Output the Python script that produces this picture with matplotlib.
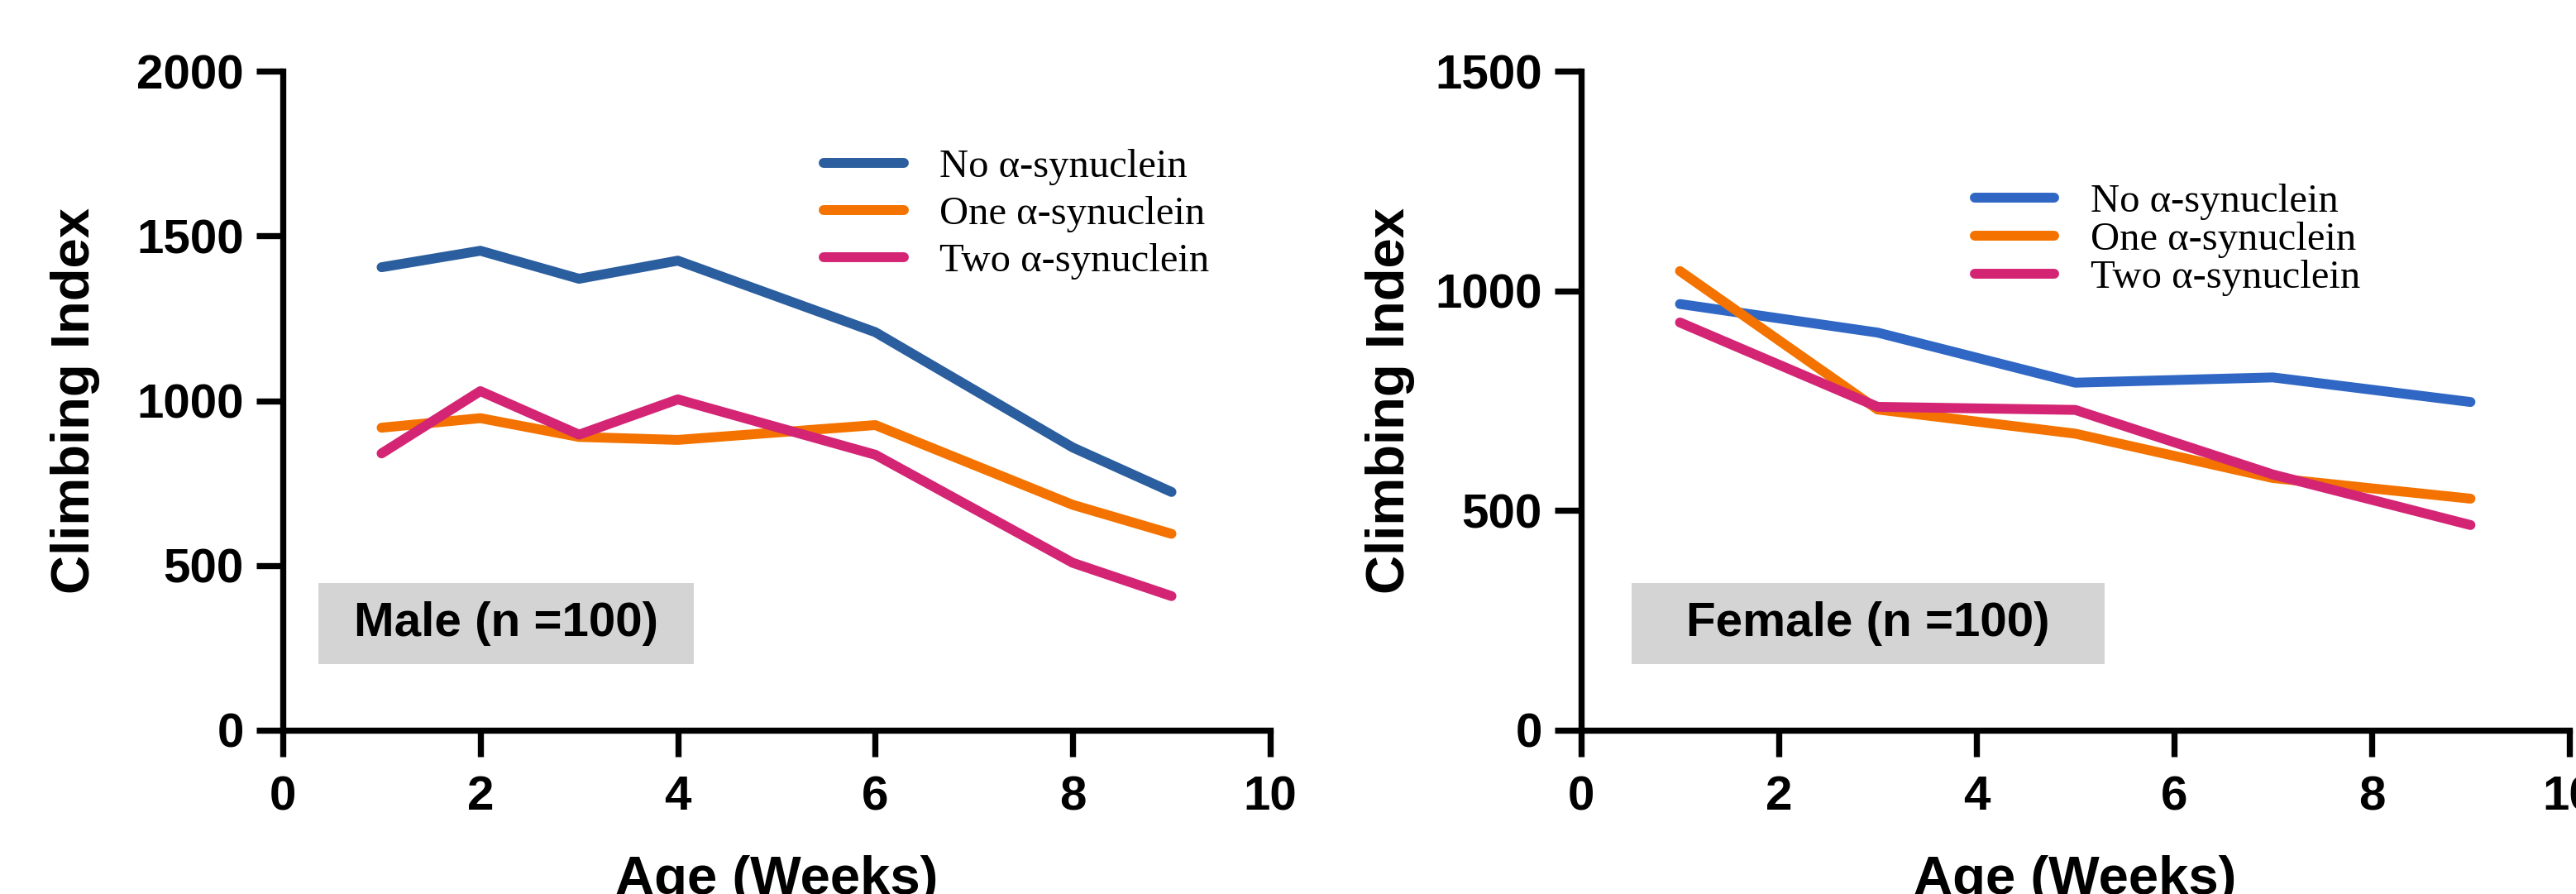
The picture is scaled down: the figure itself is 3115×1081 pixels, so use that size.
import numpy as np
import matplotlib as mpl
mpl.use('Agg')
import matplotlib.pyplot as plt
from matplotlib.patches import Rectangle


# male panel data (weeks, climbing index)
male_weeks = [1, 2, 3, 4, 6, 8, 9]
male_no = [1405, 1455, 1370, 1425, 1208, 858, 723]
male_one = [918, 947, 890, 881, 926, 684, 596]
male_two = [840, 1029, 897, 1004, 836, 508, 407]

# female panel data
female_weeks = [1, 3, 5, 7, 9]
female_no = [970, 905, 791, 803, 747]
female_one = [1045, 730, 675, 574, 527]
female_two = [928, 736, 729, 582, 467]

series_labels = ['No \u03b1-synuclein', 'One \u03b1-synuclein', 'Two \u03b1-synuclein']
panel_titles = ['Male (n =100)', 'Female (n =100)']
x_ticks = [0, 2, 4, 6, 8, 10]
male_yticks = [0, 500, 1000, 1500, 2000]
female_yticks = [0, 500, 1000, 1500]

blue_m = '#2B5E9E'
blue_f = '#3067C4'
orange = '#F47300'
pink = '#D42575'
box_grey = '#D4D4D4'

sans = 'Liberation Sans'
serif = 'Liberation Serif'

plt.rcParams['font.family'] = sans
plt.rcParams['font.weight'] = 'bold'

fig = plt.figure(figsize=(31.15, 10.81), dpi=100)
ax1 = fig.add_axes([0.1098, 0.1832, 0.3833, 0.7372])
ax2 = fig.add_axes([0.6138, 0.1832, 0.3836, 0.7372])


def style_axis(ax, yticks, ylab_x):
	ax.spines['right'].set_visible(False)
	ax.spines['top'].set_visible(False)
	ax.spines['left'].set_linewidth(5.3)
	ax.spines['bottom'].set_linewidth(5.3)
	ax.set_xlim(0, 10)
	ax.set_ylim(yticks[0], yticks[-1])
	ax.set_xticks(x_ticks)
	ax.set_yticks(yticks)
	ax.tick_params(axis='both', length=23, width=5.3, labelsize=42)
	ax.tick_params(axis='x', pad=16)
	ax.tick_params(axis='y', pad=11)
	for lab in ax.get_xticklabels() + ax.get_yticklabels():
		lab.set_fontweight('bold')
	ax.set_xlabel('Age (Weeks)', fontsize=47, fontweight='bold')
	ax.set_ylabel('Climbing Index', fontsize=47, fontweight='bold')
	ax.xaxis.set_label_coords(0.5, -0.19)
	ax.yaxis.set_label_coords(ylab_x, 0.5)


lw = 8.6

ax1.plot(male_weeks, male_no, color=blue_m, lw=lw, solid_capstyle='round', label=series_labels[0])
ax1.plot(male_weeks, male_one, color=orange, lw=lw, solid_capstyle='round', label=series_labels[1])
ax1.plot(male_weeks, male_two, color=pink, lw=lw, solid_capstyle='round', label=series_labels[2])
style_axis(ax1, male_yticks, -0.185)

ax2.plot(female_weeks, female_no, color=blue_f, lw=lw, solid_capstyle='round', label=series_labels[0])
ax2.plot(female_weeks, female_one, color=orange, lw=lw, solid_capstyle='round', label=series_labels[1])
ax2.plot(female_weeks, female_two, color=pink, lw=lw, solid_capstyle='round', label=series_labels[2])
style_axis(ax2, female_yticks, -0.168)

# legends
leg1 = ax1.legend(loc='upper left', bbox_to_anchor=(0.548, 0.882), frameon=False,
		prop={'family': serif, 'size': 35, 'weight': 'normal'},
		handlelength=1.98, handletextpad=0.9, labelspacing=0.27,
		borderpad=0, borderaxespad=0)
leg2 = ax2.legend(loc='upper left', bbox_to_anchor=(0.398, 0.83), frameon=False,
		prop={'family': serif, 'size': 35, 'weight': 'normal'},
		handlelength=1.98, handletextpad=0.9, labelspacing=0.05,
		borderpad=0, borderaxespad=0)
for leg in (leg1, leg2):
	for h in leg.get_lines():
		h.set_linewidth(8.6)
		h.set_solid_capstyle('round')

# grey boxes with panel titles
boxes = [(ax1, 0.036, 0.416), (ax2, 0.051, 0.530)]
for (ax, x0, x1), title in zip(boxes, panel_titles):
	ax.add_patch(Rectangle((x0, 0.100), x1 - x0, 0.123, transform=ax.transAxes,
		facecolor=box_grey, edgecolor='none', zorder=0))
	ax.text((x0 + x1) / 2, 0.162, title, transform=ax.transAxes, ha='center', va='center',
		fontsize=42, fontweight='bold', color='black')

fig.savefig('out.png', dpi=100, facecolor='w')
plt.close(fig)
